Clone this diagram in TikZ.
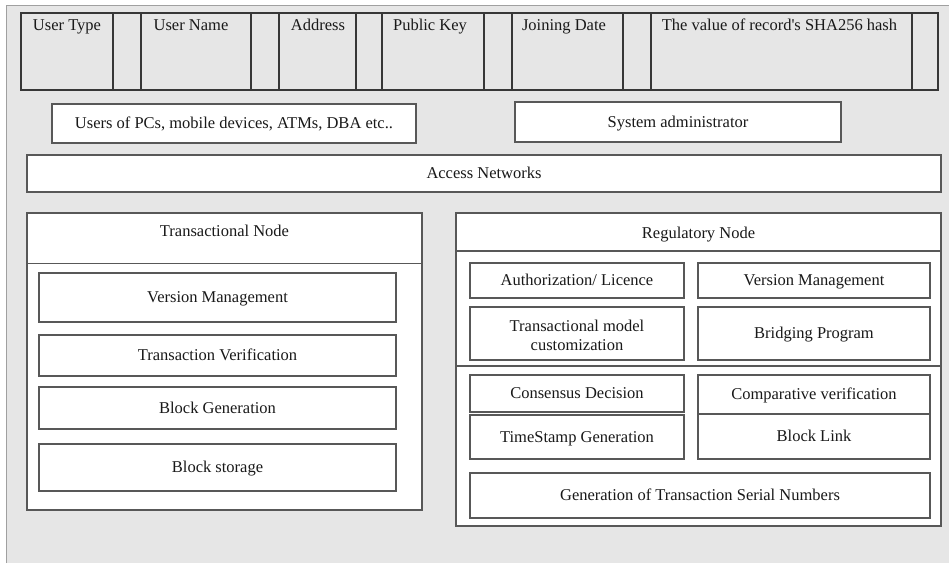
\documentclass[tikz,border=0pt]{standalone}
\usepackage{fontspec}
\setmainfont{Liberation Serif}
\definecolor{panel}{RGB}{230,230,230}
\definecolor{panelrule}{RGB}{160,160,160}
\definecolor{boxrule}{RGB}{88,88,88}
\definecolor{tablerule}{RGB}{55,55,55}
\definecolor{ink}{RGB}{25,25,25}
\tikzset{
  every node/.style={font=\fontsize{16.5}{19}\selectfont, text=ink, inner sep=0pt, outer sep=0pt},
  box/.style={draw=boxrule, line width=1.6pt, fill=white, rectangle,
    text height=10.5pt, text depth=0pt, align=center},
  frame/.style={draw=boxrule, line width=1.6pt, fill=white, rectangle},
  cell/.style={draw=tablerule, line width=1.3pt, fill=panel, rectangle, minimum height=77pt},
  celltext/.style={anchor=base},
  divider/.style={draw=boxrule, line width=1.6pt},
  thindivider/.style={draw=boxrule, line width=0.9pt}
}
\begin{document}
\begin{tikzpicture}[x=1pt, y=-1pt]
\useasboundingbox (0,0) rectangle (949,563);
% page and grey panel
\fill[white] (0,0) rectangle (949,563);
\fill[panel] (6,5) rectangle (949,563);
\draw[panelrule, line width=1pt] (6,563) -- (6,5) -- (949,5);

% record fields
\node[cell, minimum width=92pt]  (c1) at (67,51.5) {};
\node[cell, minimum width=28pt]  (g1) at (127,51.5) {};
\node[cell, minimum width=110pt] (c2) at (196,51.5) {};
\node[cell, minimum width=28pt]  (g2) at (265,51.5) {};
\node[cell, minimum width=77pt]  (c3) at (317.5,51.5) {};
\node[cell, minimum width=26pt]  (g3) at (369,51.5) {};
\node[cell, minimum width=102pt] (c4) at (433,51.5) {};
\node[cell, minimum width=28pt]  (g4) at (498,51.5) {};
\node[cell, minimum width=111pt] (c5) at (567.5,51.5) {};
\node[cell, minimum width=28pt]  (g5) at (637,51.5) {};
\node[cell, minimum width=261pt] (c6) at (781.5,51.5) {};
\node[cell, minimum width=26pt]  (g6) at (925,51.5) {};
\node[celltext] (t1) at (67,30) {User Type};
\node[celltext] (t2) at (191,30) {User Name};
\node[celltext] (t3) at (318,30) {Address};
\node[celltext] (t4) at (430,30) {Public Key};
\node[celltext] (t5) at (564,30) {Joining Date};
\node[celltext] (t6) at (779.5,30) {The value of record\textquotesingle s SHA256 hash};

% users and administrator
\node[box, minimum width=364pt, minimum height=39pt] (users) at (234,123.5) {Users of PCs, mobile devices, ATMs, DBA etc..};
\node[box, minimum width=326pt, minimum height=40pt] (admin) at (678,122) {System administrator};
\node[box, minimum width=914pt, minimum height=37pt] (access) at (484,173.5) {Access Networks};

% transactional node
\node[frame, minimum width=395pt, minimum height=297pt] (tn) at (224.5,361.5) {};
\coordinate (tnl) at (27,263);
\coordinate (tnr) at (422,263);
\draw[thindivider] (tnl) -- (tnr);
\node[text height=10.5pt, text depth=0pt] (tntitle) at (224.5,231) {Transactional Node};
\node[box, minimum width=357pt, minimum height=49pt] (tvm)  at (217.5,297.5) {Version Management};
\node[box, minimum width=357pt, minimum height=41pt] (tver) at (217.5,355.5) {Transaction Verification};
\node[box, minimum width=357pt, minimum height=42pt] (tbg)  at (217.5,408) {Block Generation};
\node[box, minimum width=357pt, minimum height=47pt] (tbs)  at (217.5,467.5) {Block storage};

% regulatory node
\node[frame, minimum width=485pt, minimum height=313pt] (rn) at (698.5,369.5) {};
\coordinate (rnl1) at (456,251);
\coordinate (rnr1) at (941,251);
\coordinate (rnl2) at (456,366);
\coordinate (rnr2) at (941,366);
\draw[divider] (rnl1) -- (rnr1);
\draw[divider] (rnl2) -- (rnr2);
\node[text height=10.5pt, text depth=0pt] (rntitle) at (698.5,233) {Regulatory Node};
\node[box, minimum width=214pt, minimum height=35pt] (auth)  at (577,280.5) {Authorization/ Licence};
\node[box, minimum width=232pt, minimum height=35pt] (rvm)   at (814,280.5) {Version Management};
\node[box, minimum width=214pt, minimum height=53pt, text height=34pt, text depth=0pt] (tmc) at (577,333.5) {Transactional model\\customization};
\node[box, minimum width=232pt, minimum height=53pt] (brp)   at (814,333.5) {Bridging Program};
\node[box, minimum width=214pt, minimum height=37pt] (cons)  at (577,393.5) {Consensus Decision};
\node[box, minimum width=214pt, minimum height=44pt] (ts)    at (577,437) {TimeStamp Generation};
\node[box, minimum width=232pt, minimum height=39pt] (comp)  at (814,394.5) {Comparative verification};
\node[box, minimum width=232pt, minimum height=45pt] (blink) at (814,436.5) {Block Link};
\node[box, minimum width=460pt, minimum height=45pt] (gtsn)  at (700,495.5) {Generation of Transaction Serial Numbers};
\end{tikzpicture}
\end{document}
